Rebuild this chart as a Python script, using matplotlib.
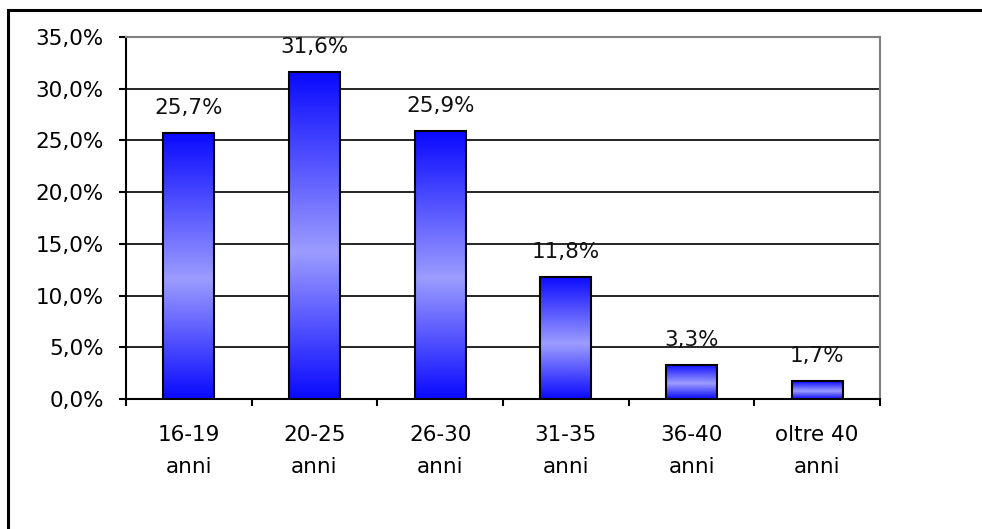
import numpy as np
import matplotlib.pyplot as plt
from matplotlib.colors import LinearSegmentedColormap
from matplotlib.patches import Rectangle
from matplotlib.ticker import FixedLocator, NullFormatter

categories = ['16-19\nanni', '20-25\nanni', '26-30\nanni',
              '31-35\nanni', '36-40\nanni', 'oltre 40\nanni']
values = [25.7, 31.6, 25.9, 11.8, 3.3, 1.7]
yticks = [0, 5, 10, 15, 20, 25, 30, 35]


def pct(v):
    # formato italiano con virgola decimale
    return f'{v:.1f}%'.replace('.', ',')


plt.rcParams['font.family'] = 'DejaVu Sans'
plt.rcParams['font.size'] = 15.5

fig = plt.figure(figsize=(9.82, 5.29), dpi=100)
ax = fig.add_axes([126 / 982, 1 - 399 / 529, (880 - 126) / 982, (399 - 37) / 529])

# riempimento a gradiente verticale: blu scuro ai bordi, chiaro al centro
grad_cmap = LinearSegmentedColormap.from_list(
    'barre', [(0.0, '#0a0aff'), (0.55, '#9c9cff'), (1.0, '#0a0aff')])
grad = np.linspace(0, 1, 256).reshape(-1, 1)

x = np.arange(len(categories))
w = 0.405
for xi, v in zip(x, values):
    ax.imshow(grad, extent=(xi - w / 2, xi + w / 2, 0, v), aspect='auto',
              cmap=grad_cmap, origin='upper', zorder=3, interpolation='bilinear')
ax.bar(x, values, w, fill=False, edgecolor='black', linewidth=1.5, zorder=4)

for xi, v in zip(x, values):
    ax.annotate(pct(v), (xi, v), xytext=(0, 11), textcoords='offset points',
                ha='center', va='bottom', color='#111111')

ax.set_xlim(-0.5, len(categories) - 0.5)
ax.set_ylim(0, 35)
ax.set_yticks(yticks)
ax.set_yticklabels([pct(t) for t in yticks])
ax.yaxis.grid(True, color='black', linewidth=1.2)
ax.set_axisbelow(True)

# tacche sui confini tra le categorie, etichette al centro
ax.xaxis.set_major_locator(FixedLocator(np.arange(-0.5, len(categories))))
ax.xaxis.set_major_formatter(NullFormatter())
ax.set_xticks(x, minor=True)
ax.set_xticklabels(categories, minor=True, linespacing=1.75)
ax.tick_params(axis='x', which='major', length=5, width=1.5)
ax.tick_params(axis='x', which='minor', length=0, pad=19)
ax.tick_params(axis='y', length=5, width=1.5, pad=11)

for s in ['left', 'bottom']:
    ax.spines[s].set_linewidth(1.5)
for s in ['top', 'right']:
    ax.spines[s].set_color('#808080')
    ax.spines[s].set_linewidth(1.5)

# cornice esterna del grafico
fig.patches.append(Rectangle((8 / 982, -0.5), 2, 1 - 10 / 529 + 0.5,
                             transform=fig.transFigure, fill=False,
                             edgecolor='black', linewidth=2.2))

fig.savefig('out.png', dpi=100)
